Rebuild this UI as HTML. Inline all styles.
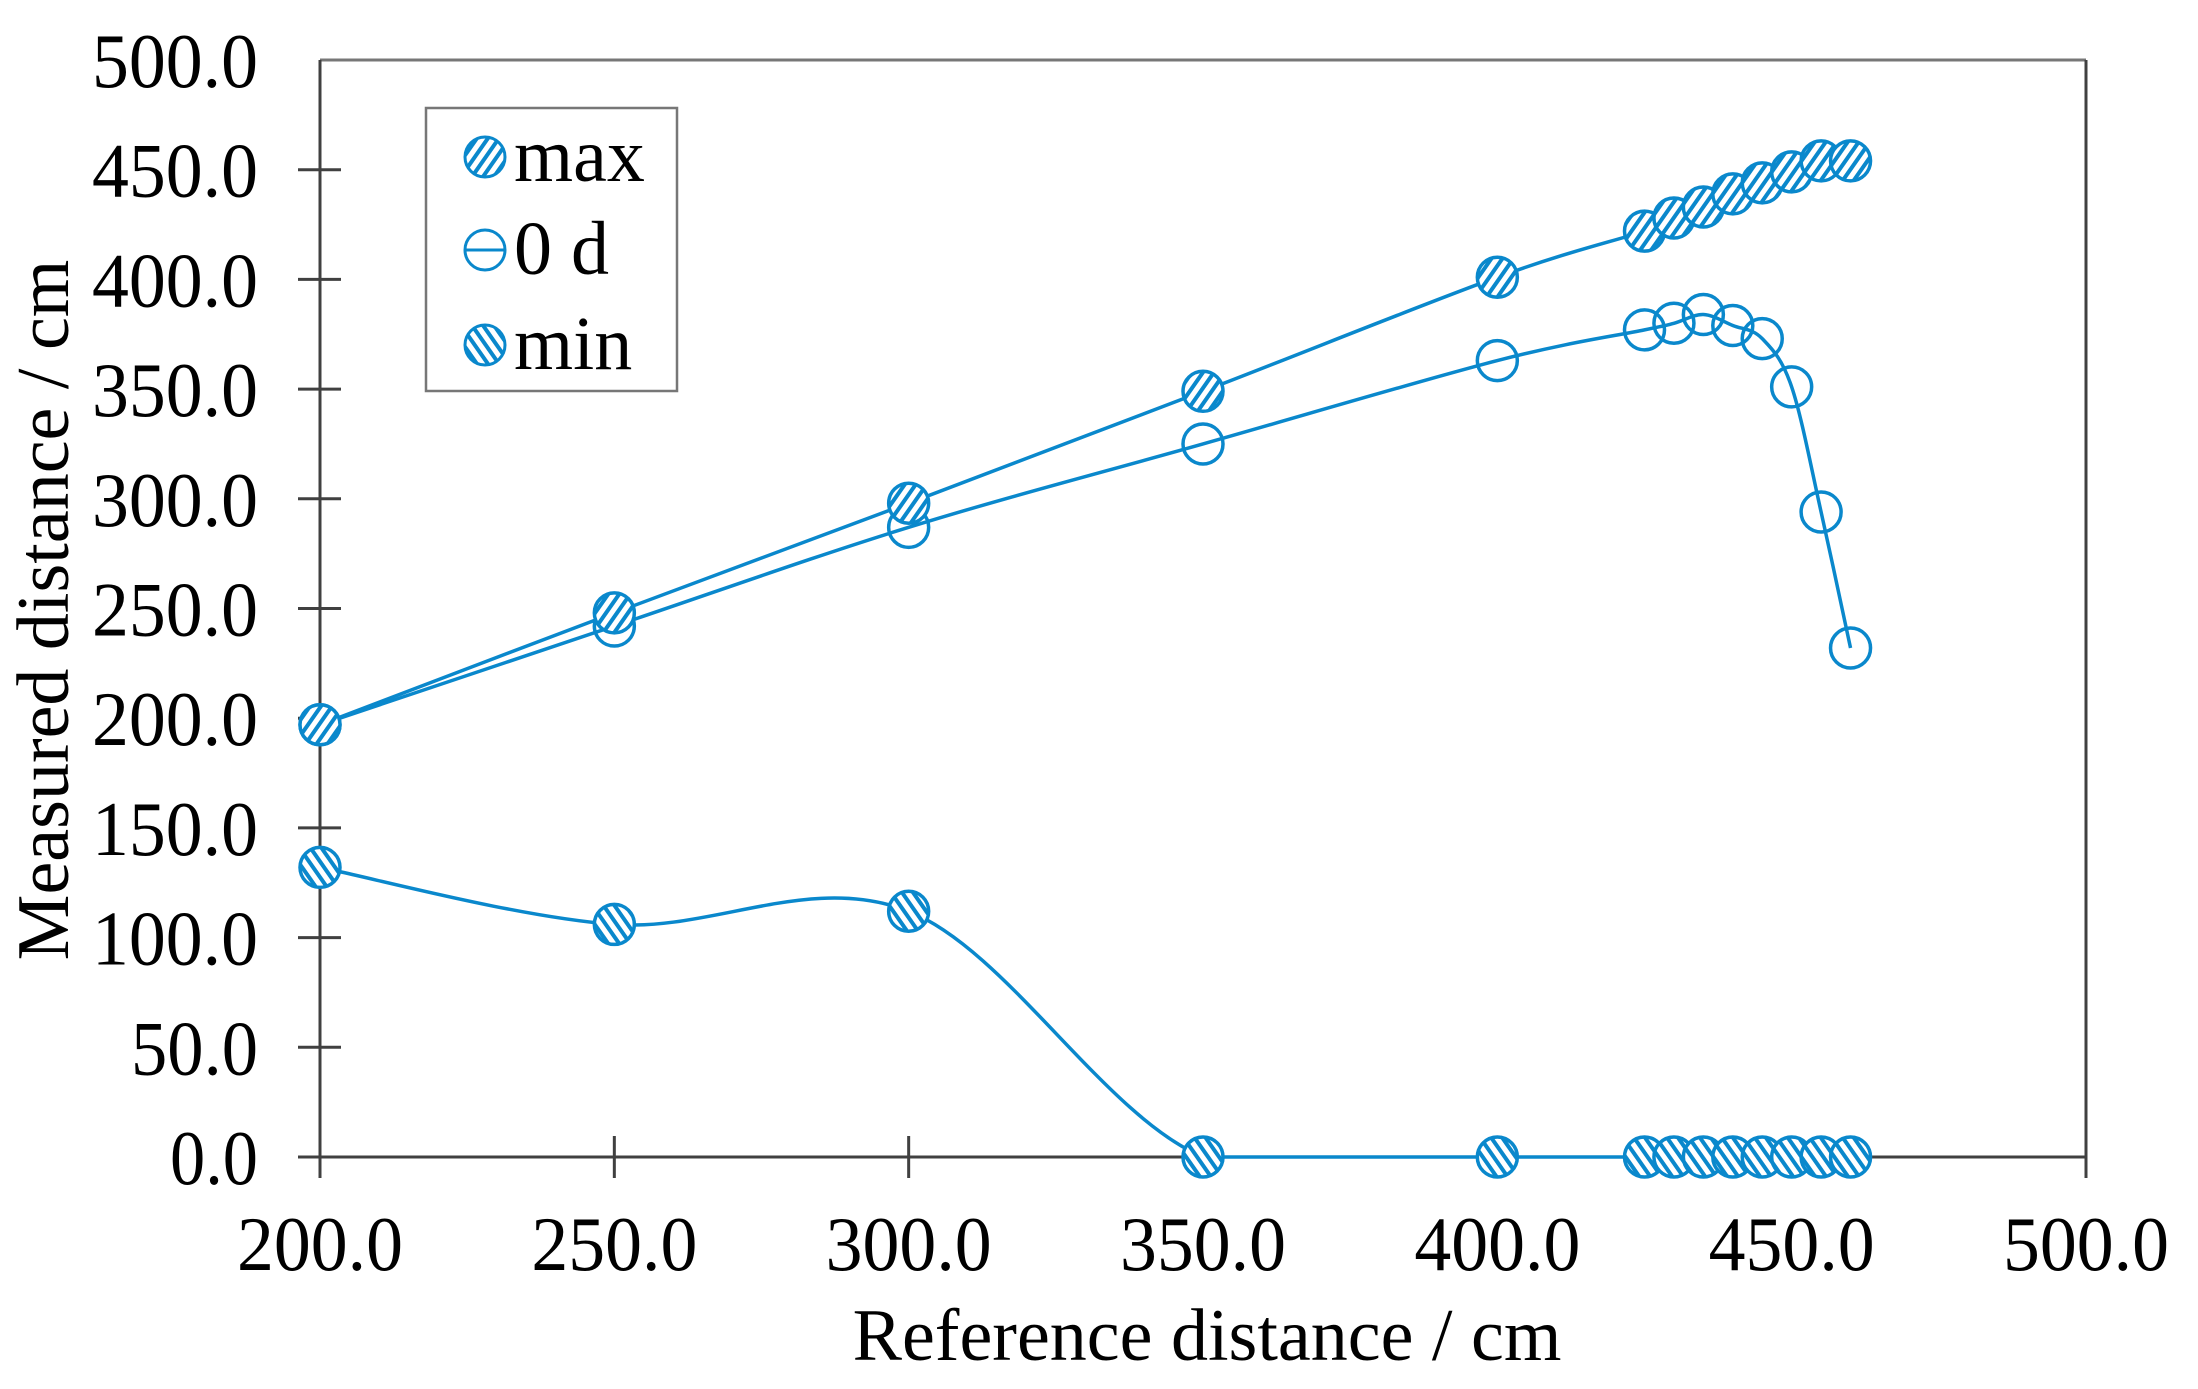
<!DOCTYPE html>
<html><head><meta charset="utf-8"><style>
html,body{margin:0;padding:0;background:#fff;}
svg{display:block;}
text{font-family:"Liberation Serif",serif;fill:#000;}
</style></head><body>
<svg id="s" width="2198" height="1389" viewBox="0 0 2198 1389" xmlns="http://www.w3.org/2000/svg">
<defs>
<pattern id="hmax" patternUnits="userSpaceOnUse" width="9" height="9" patternTransform="rotate(35)">
<rect width="9" height="9" fill="#fff"/><rect width="4" height="9" fill="#0a88cc"/></pattern>
<pattern id="hmin" patternUnits="userSpaceOnUse" width="9" height="9" patternTransform="rotate(-35)">
<rect width="9" height="9" fill="#fff"/><rect width="4" height="9" fill="#0a88cc"/></pattern>
</defs>
<g id="axes" stroke="#404040" stroke-width="3" fill="none">
<line x1="320" y1="60" x2="2086" y2="60" stroke="#777"/>
<line x1="320" y1="60" x2="320" y2="1157"/>
<line x1="320" y1="1157" x2="2086" y2="1157"/>
<line x1="2086" y1="60" x2="2086" y2="1178"/>
</g>
<g id="ticks" stroke="#404040" stroke-width="3"></g>
<g id="labels" font-size="77"></g>
<g id="series"></g>
<rect x="426" y="108" width="251" height="283" fill="#fff" stroke="#777" stroke-width="2.5"/>
<g font-size="76">
<line x1="466" y1="157" x2="504" y2="157" stroke="#0a88cc" stroke-width="3"/>
<circle cx="485" cy="157" r="20" fill="url(#hmax)" stroke="#0a88cc" stroke-width="3"/>
<text x="514" y="181">max</text>
<line x1="466" y1="250" x2="504" y2="250" stroke="#0a88cc" stroke-width="3"/>
<circle cx="485" cy="250" r="20" fill="none" stroke="#0a88cc" stroke-width="3"/>
<text x="514" y="274">0 d</text>
<line x1="466" y1="345" x2="504" y2="345" stroke="#0a88cc" stroke-width="3"/>
<circle cx="485" cy="345" r="20" fill="url(#hmin)" stroke="#0a88cc" stroke-width="3"/>
<text x="514" y="369">min</text>
</g>
<text x="1207" y="1360" font-size="74" text-anchor="middle">Reference distance / cm</text>
<text transform="translate(68,610) rotate(-90)" font-size="74" text-anchor="middle">Measured distance / cm</text>
</svg>
<script>
var NS="http://www.w3.org/2000/svg";
function X(v){return 320+(v-200)*1766/300;}
function Y(v){return 1157-v*1097/500;}
function el(p,t,a,txt){var e=document.createElementNS(NS,t);for(var k in a)e.setAttribute(k,a[k]);if(txt!=null)e.textContent=txt;p.appendChild(e);return e;}
var tk=document.getElementById('ticks'),lb=document.getElementById('labels');
function L(s){return s.length==5?166:(s.length==4?127:88);}
for(var i=0;i<=10;i++){var v=i*50,y=Y(v),s=v.toFixed(1);
 if(i<10)el(tk,'line',{x1:298,y1:y,x2:341,y2:y});
 el(lb,'text',{x:258,y:y+27,'text-anchor':'end',textLength:L(s),lengthAdjust:'spacingAndGlyphs'},s);}
for(var i=0;i<=6;i++){var v=200+i*50,x=X(v);
 el(tk,'line',{x1:x,y1:1136,x2:x,y2:1178});
 el(lb,'text',{x:x,y:1270,'text-anchor':'middle',textLength:166,lengthAdjust:'spacingAndGlyphs'},v.toFixed(1));}
var xs=[200,250,300,350,400,425,430,435,440,445,450,455,460];
var mx=[197,248,298,349,401,422,428,433,439,444,449,454,454];
var od=[197,242,287,325,363,377,380,384,379,373,351,294,232];
var mn=[132,106,112,0,0,0,0,0,0,0,0,0,0];
function path(ys){var P=xs.map(function(v,i){return [X(v),Y(ys[i])];});
 var d="M"+P[0][0]+","+P[0][1];
 for(var i=0;i<P.length-1;i++){var p0=P[Math.max(i-1,0)],p1=P[i],p2=P[i+1],p3=P[Math.min(i+2,P.length-1)];
  var t=0.5/3;
  var c1=[p1[0]+(p2[0]-p0[0])*t,p1[1]+(p2[1]-p0[1])*t],c2=[p2[0]-(p3[0]-p1[0])*t,p2[1]-(p3[1]-p1[1])*t];
  if(p1[1]==p2[1]){c1[1]=p1[1];c2[1]=p2[1];}
  c1[1]=Math.min(c1[1],1157);c2[1]=Math.min(c2[1],1157);
  d+=" C"+c1+" "+c2+" "+p2;}
 return d;}
var s=document.getElementById('series');
[[mn,'url(#hmin)'],[od,'none'],[mx,'url(#hmax)']].forEach(function(a){
 el(s,'path',{d:path(a[0]),fill:'none',stroke:'#0a88cc','stroke-width':3.5});
 xs.forEach(function(v,i){el(s,'circle',{cx:X(v),cy:Y(a[0][i]),r:20,fill:a[1],stroke:'#0a88cc','stroke-width':3.5});});
});
</script>
</body></html>
